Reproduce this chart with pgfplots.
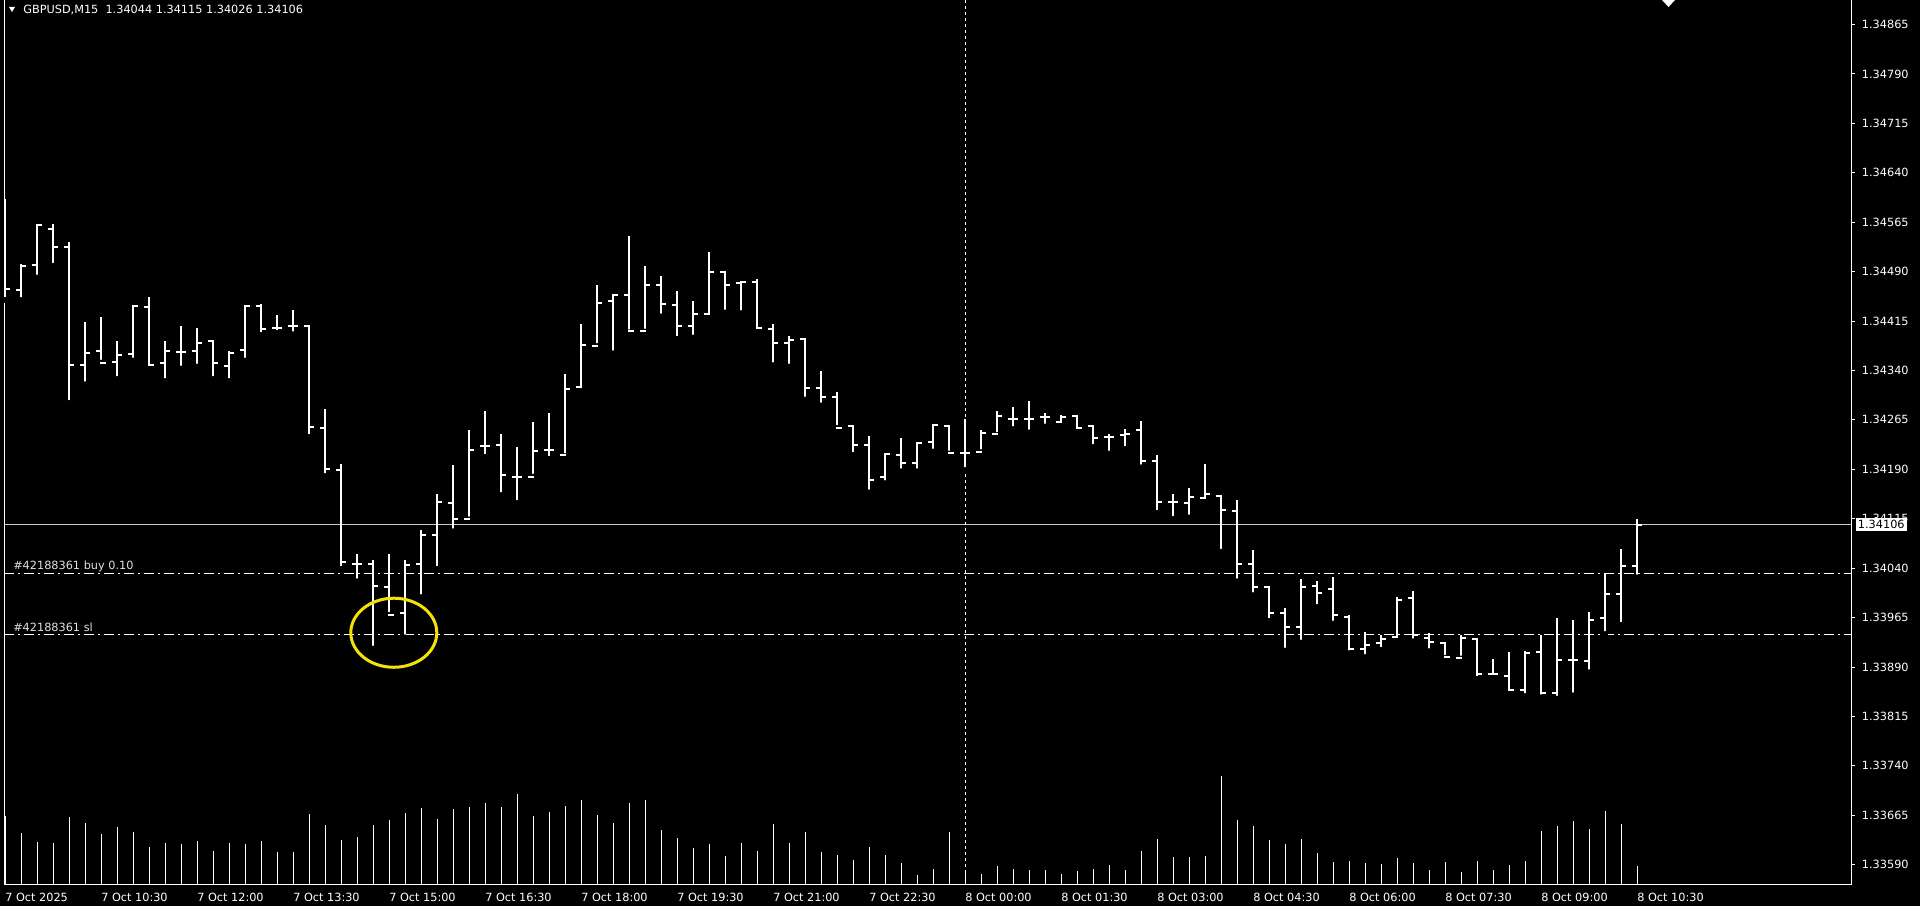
\documentclass[border=0pt]{standalone}
\usepackage{fontspec}
\setmainfont{DejaVu Sans}
\usepackage{pgfplots}
\usepackage{pgfplotstable}
\pgfplotsset{compat=1.18}
\definecolor{circ}{RGB}{245,225,10}
\definecolor{bidc}{RGB}{200,200,200}
\definecolor{lbl}{RGB}{225,225,225}
\newcommand\tfont{\fontsize{8.5}{10}\selectfont}
\pgfdeclareplotmark{otick}{\pgfpathmoveto{\pgfpoint{-3.9bp}{0pt}}\pgfpathlineto{\pgfpoint{0.75bp}{0pt}}\pgfusepathqstroke}
\pgfdeclareplotmark{ctick}{\pgfpathmoveto{\pgfpoint{-0.75bp}{0pt}}\pgfpathlineto{\pgfpoint{3.9bp}{0pt}}\pgfusepathqstroke}

\pgfplotstableread{
i O H L C
0 1.34462 1.34600 1.34447 1.34463
1 1.34462 1.34501 1.34447 1.34498
2 1.34500 1.34563 1.34481 1.34561
3 1.34555 1.34562 1.34499 1.34528
4 1.34528 1.34535 1.34291 1.34348
5 1.34349 1.34414 1.34319 1.34366
6 1.34370 1.34421 1.34352 1.34352
7 1.34353 1.34384 1.34327 1.34364
8 1.34365 1.34438 1.34355 1.34438
9 1.34437 1.34451 1.34345 1.34348
10 1.34351 1.34384 1.34324 1.34369
11 1.34368 1.34407 1.34343 1.34368
12 1.34370 1.34405 1.34346 1.34382
13 1.34384 1.34384 1.34327 1.34351
14 1.34347 1.34370 1.34324 1.34367
15 1.34371 1.34438 1.34355 1.34438
16 1.34438 1.34441 1.34394 1.34403
17 1.34405 1.34424 1.34397 1.34405
18 1.34407 1.34431 1.34395 1.34407
19 1.34407 1.34407 1.34239 1.34254
20 1.34252 1.34281 1.34180 1.34191
21 1.34189 1.34198 1.34039 1.34050
22 1.34047 1.34061 1.34020 1.34046
23 1.34047 1.34052 1.33918 1.34013
24 1.34011 1.34062 1.33969 1.33969
25 1.33972 1.34052 1.33935 1.34045
26 1.34047 1.34098 1.33996 1.34090
27 1.34090 1.34152 1.34039 1.34140
28 1.34139 1.34196 1.34096 1.34115
29 1.34115 1.34250 1.34114 1.34219
30 1.34226 1.34279 1.34209 1.34226
31 1.34227 1.34244 1.34151 1.34181
32 1.34179 1.34224 1.34139 1.34179
33 1.34179 1.34262 1.34179 1.34218
34 1.34220 1.34276 1.34206 1.34220
35 1.34212 1.34335 1.34210 1.34312
36 1.34315 1.34411 1.34309 1.34378
37 1.34377 1.34469 1.34377 1.34443
38 1.34446 1.34456 1.34366 1.34455
39 1.34455 1.34544 1.34398 1.34400
40 1.34400 1.34499 1.34399 1.34469
41 1.34470 1.34484 1.34422 1.34441
42 1.34440 1.34460 1.34388 1.34408
43 1.34408 1.34445 1.34390 1.34425
44 1.34426 1.34520 1.34422 1.34490
45 1.34489 1.34490 1.34428 1.34470
46 1.34472 1.34476 1.34427 1.34475
47 1.34475 1.34479 1.34399 1.34405
48 1.34403 1.34411 1.34348 1.34382
49 1.34382 1.34392 1.34346 1.34386
50 1.34387 1.34389 1.34296 1.34314
51 1.34314 1.34339 1.34287 1.34300
52 1.34299 1.34308 1.34253 1.34253
53 1.34255 1.34255 1.34212 1.34227
54 1.34227 1.34241 1.34155 1.34174
55 1.34178 1.34214 1.34169 1.34213
56 1.34212 1.34237 1.34187 1.34200
57 1.34200 1.34230 1.34187 1.34230
58 1.34231 1.34259 1.34217 1.34258
59 1.34255 1.34258 1.34214 1.34215
60 1.34214 1.34267 1.34189 1.34215
61 1.34216 1.34250 1.34216 1.34245
62 1.34244 1.34279 1.34242 1.34271
63 1.34266 1.34284 1.34251 1.34266
64 1.34267 1.34294 1.34246 1.34267
65 1.34270 1.34276 1.34255 1.34270
66 1.34262 1.34272 1.34257 1.34270
67 1.34271 1.34272 1.34248 1.34253
68 1.34255 1.34258 1.34224 1.34238
69 1.34239 1.34243 1.34214 1.34239
70 1.34242 1.34251 1.34221 1.34243
71 1.34249 1.34263 1.34193 1.34203
72 1.34203 1.34211 1.34124 1.34140
73 1.34140 1.34152 1.34115 1.34140
74 1.34139 1.34162 1.34117 1.34148
75 1.34146 1.34198 1.34142 1.34152
76 1.34150 1.34150 1.34065 1.34128
77 1.34127 1.34144 1.34020 1.34046
78 1.34046 1.34068 1.33999 1.34012
79 1.34011 1.34011 1.33960 1.33972
80 1.33972 1.33980 1.33915 1.33950
81 1.33951 1.34023 1.33927 1.34012
82 1.34013 1.34020 1.33981 1.34003
83 1.34009 1.34026 1.33956 1.33969
84 1.33966 1.33969 1.33911 1.33918
85 1.33918 1.33943 1.33905 1.33923
86 1.33926 1.33938 1.33916 1.33933
87 1.33936 1.33996 1.33932 1.33992
88 1.33994 1.34005 1.33929 1.33938
89 1.33934 1.33942 1.33914 1.33928
90 1.33926 1.33926 1.33904 1.33905
91 1.33904 1.33938 1.33903 1.33934
92 1.33933 1.33933 1.33872 1.33880
93 1.33880 1.33902 1.33876 1.33880
94 1.33877 1.33913 1.33850 1.33855
95 1.33855 1.33915 1.33846 1.33912
96 1.33913 1.33939 1.33844 1.33850
97 1.33850 1.33964 1.33842 1.33901
98 1.33901 1.33961 1.33847 1.33901
99 1.33899 1.33973 1.33882 1.33962
100 1.33965 1.34032 1.33940 1.34001
101 1.34001 1.34069 1.33954 1.34044
102 1.34044 1.34115 1.34026 1.34106
}\ohlc

\pgfplotstableread{
i V
0 69
1 52
2 43
3 42
4 68
5 62
6 51
7 58
8 53
9 38
10 42
11 41
12 44
13 34
14 42
15 41
16 44
17 33
18 33
19 71
20 60
21 45
22 48
23 60
24 65
25 72
26 77
27 66
28 76
29 78
30 82
31 78
32 91
33 69
34 73
35 79
36 85
37 70
38 62
39 82
40 85
41 55
42 47
43 37
44 41
45 29
46 42
47 34
48 61
49 42
50 53
51 33
52 30
53 25
54 38
55 30
56 22
57 10
58 16
59 53
60 12
61 11
62 19
63 16
64 15
65 15
66 11
67 14
68 16
69 20
70 15
71 34
72 46
73 28
74 28
75 29
76 109
77 65
78 59
79 45
80 41
81 46
82 32
83 23
84 24
85 22
86 21
87 27
88 22
89 15
90 23
91 13
92 24
93 15
94 20
95 24
96 54
97 59
98 64
99 56
100 74
101 61
102 19
}\vol

\begin{document}
\begin{tikzpicture}
\path[use as bounding box, fill=black] (0,0) rectangle (1440bp,679.5bp);

% volume (separate scale, same window)
\begin{axis}[at={(3bp,15.75bp)}, anchor=south west, scale only axis,
  width=1385.25bp, height=663.75bp,
  xmin=-0.0625, xmax=115.375, ymin=0, ymax=885, hide axis]
\addplot[ycomb, draw=white, line width=0.75bp, mark=none] table[x=i,y=V]{\vol};
\end{axis}

\begin{axis}[at={(3bp,15.75bp)}, anchor=south west, scale only axis,
  width=1385.25bp, height=663.75bp,
  xmin=-0.0625, xmax=115.375, ymin=1.335592, ymax=1.349022,
  axis line style={white, line width=0.75bp},
  clip marker paths=true,
  tick align=outside, major tick length=3bp,
  xtick={0,6,12,18,24,30,36,42,48,54,60,66,72,78,84,90,96,102},
  xticklabels={7 Oct 2025,7 Oct 10:30,7 Oct 12:00,7 Oct 13:30,7 Oct 15:00,7 Oct 16:30,7 Oct 18:00,7 Oct 19:30,7 Oct 21:00,7 Oct 22:30,8 Oct 00:00,8 Oct 01:30,8 Oct 03:00,8 Oct 04:30,8 Oct 06:00,8 Oct 07:30,8 Oct 09:00,8 Oct 10:30},
  xtick style={draw=none},
  xticklabel style={anchor=north west, inner sep=0pt, text=white, font=\tfont, yshift=-3bp},
  ytick={1.33590,1.33665,1.33740,1.33815,1.33890,1.33965,1.34040,1.34115,1.34190,1.34265,1.34340,1.34415,1.34490,1.34565,1.34640,1.34715,1.34790,1.34865},
  yticklabels={1.33590,1.33665,1.33740,1.33815,1.33890,1.33965,1.34040,1.34115,1.34190,1.34265,1.34340,1.34415,1.34490,1.34565,1.34640,1.34715,1.34790,1.34865},
  ytick pos=right, yticklabel pos=right,
  ytick style={white, line width=0.75bp},
  yticklabel style={anchor=west, inner sep=0pt, text=white, font=\tfont, xshift=5bp},
]
% horizontal price lines
\draw[bidc, line width=0.75bp] (axis cs:-0.0625,1.34106) -- (axis cs:115.375,1.34106);
\draw[white, line width=0.75bp, dash pattern=on 7.5bp off 3bp on 1.5bp off 3bp] (axis cs:-0.0625,1.34032) -- (axis cs:115.375,1.34032);
\draw[white, line width=0.75bp, dash pattern=on 7.5bp off 3bp on 1.5bp off 3bp] (axis cs:-0.0625,1.33939) -- (axis cs:115.375,1.33939);
\draw[white, line width=0.75bp, dash pattern=on 2.25bp off 2.25bp] (axis cs:60,1.335592) -- (axis cs:60,1.349022);
% OHLC bars
\addplot[only marks, mark=none, error bars/.cd, y dir=plus, y explicit, error mark=none,
  error bar style={draw=white, line width=1.5bp, solid}]
  table[x=i, y=L, y error plus expr=\thisrow{H}-\thisrow{L}]{\ohlc};
\addplot[only marks, mark=otick, mark options={draw=white, line width=1.5bp}] table[x=i,y=O]{\ohlc};
\addplot[only marks, mark=ctick, mark options={draw=white, line width=1.5bp}] table[x=i,y=C]{\ohlc};
% annotation circle
\draw[circ, line width=2.25bp] (axis cs:24.3,1.33942) ellipse [x radius=32.25bp, y radius=25.9bp];
\coordinate (bid) at (axis cs:115.375,1.34106);
\end{axis}

% bid price box
\node[fill=white, text=black, anchor=west, inner xsep=1.5bp, inner ysep=1.8bp, font=\tfont] at ([xshift=3.5bp]bid) {1.34106};

% title
\fill[white] (6.75bp,674.25bp) -- (11.25bp,674.25bp) -- (9bp,670.5bp) -- cycle;
\node[anchor=west, inner sep=0pt, text=white, font=\tfont] at (17.25bp,672bp) {GBPUSD,M15\ \ 1.34044 1.34115 1.34026 1.34106};

% chart shift marker
\fill[white] (1246.5bp,679.5bp) -- (1256.25bp,679.5bp) -- (1251.4bp,674.25bp) -- cycle;

% order labels
\node[anchor=base west, inner sep=0pt, text=lbl, font=\tfont] at (9.75bp,252bp) {\#42188361 buy 0.10};
\node[anchor=base west, inner sep=0pt, text=lbl, font=\tfont] at (9.75bp,205.5bp) {\#42188361 sl};
\end{tikzpicture}
\end{document}
